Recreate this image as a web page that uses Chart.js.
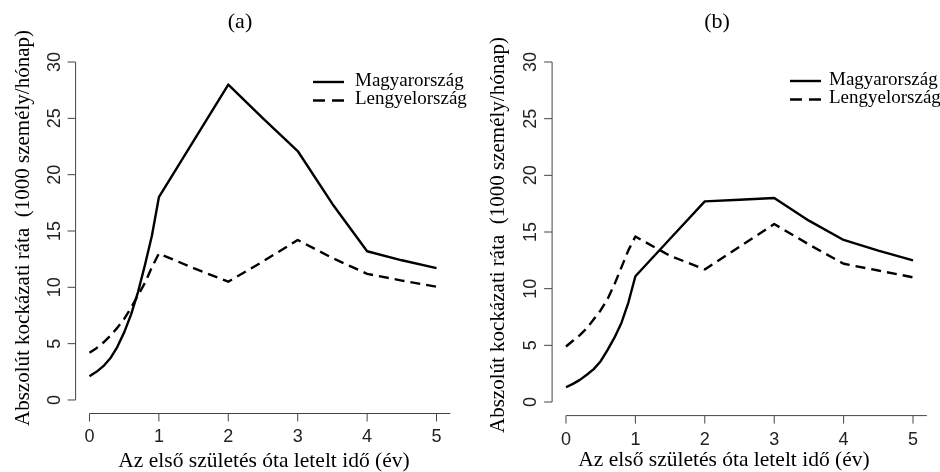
<!DOCTYPE html>
<html>
<head>
<meta charset="utf-8">
<script src="https://cdn.jsdelivr.net/npm/chart.js@4/dist/chart.umd.min.js"></script>
<style>
  body { margin: 0; background: #fff; }
  .panel { position: absolute; top: 0; width: 470px; height: 472px; }
</style>
</head>
<body>
<div class="panel" style="left:0"><canvas id="chartA" width="470" height="472"></canvas></div>
<div class="panel" style="left:470px"><canvas id="chartB" width="470" height="472"></canvas></div>
<script>
// years since first birth
const years = [0, 0.1, 0.2, 0.3, 0.4, 0.5, 0.6, 0.7, 0.8, 0.9, 1, 1.5, 2, 2.5, 3, 3.5, 4, 4.5, 5];

// panel (a)
const huA = [2.1, 2.5, 3.0, 3.7, 4.7, 6.0, 7.6, 9.6, 12.0, 14.6, 18.0, 23.0, 28.0, 25.0, 22.1, 17.4, 13.2, 12.4, 11.7];
const plA = [4.2, 4.6, 5.1, 5.7, 6.4, 7.2, 8.2, 9.3, 10.4, 11.8, 13.0, 11.7, 10.5, 12.3, 14.2, 12.6, 11.2, 10.6, 10.05];

// panel (b)
const huB = [1.3, 1.6, 1.95, 2.4, 2.9, 3.6, 4.6, 5.7, 7.0, 8.8, 11.1, 14.4, 17.7, 17.85, 18.0, 16.0, 14.3, 13.35, 12.5];
const plB = [4.9, 5.4, 5.9, 6.5, 7.3, 8.1, 9.1, 10.4, 11.9, 13.4, 14.6, 12.9, 11.7, 13.7, 15.7, 13.9, 12.2, 11.6, 11.0];

const xTicks = [0, 1, 2, 3, 4, 5];
const yTicks = [0, 5, 10, 15, 20, 25, 30];
const seriesNames = ["Magyarország", "Lengyelország"];
const yTitle = "Abszolút kockázati ráta  (1000 személy/hónap)";
const xTitle = "Az első születés óta letelt idő (év)";

const serif = "'Liberation Serif', 'Times New Roman', serif";
const sans = "'Liberation Sans', Arial, sans-serif";
const axisColor = "#444";

function pts(ys) {
  return years.map((x, i) => ({ x: x, y: ys[i] }));
}

// R-style axes, labels and legend
const rAxes = {
  id: "rAxes",
  afterDraw(chart, args, o) {
    const ctx = chart.ctx;
    const xs = chart.scales.x, ys = chart.scales.y;
    const left = chart.chartArea.left, bottom = chart.chartArea.bottom;
    ctx.save();
    ctx.strokeStyle = axisColor;
    ctx.lineWidth = 1;
    ctx.fillStyle = "#222";

    // y axis
    ctx.beginPath();
    ctx.moveTo(left, ys.getPixelForValue(yTicks[0]));
    ctx.lineTo(left, ys.getPixelForValue(yTicks[yTicks.length - 1]));
    yTicks.forEach(v => {
      const p = ys.getPixelForValue(v);
      ctx.moveTo(left - 8, p);
      ctx.lineTo(left, p);
    });
    ctx.stroke();
    ctx.font = "18px " + sans;
    ctx.textAlign = "center";
    ctx.textBaseline = "middle";
    yTicks.forEach(v => {
      ctx.save();
      ctx.translate(left - 21, ys.getPixelForValue(v));
      ctx.rotate(-Math.PI / 2);
      ctx.fillText(String(v), 0, 0);
      ctx.restore();
    });

    // x axis
    ctx.beginPath();
    ctx.moveTo(xs.getPixelForValue(xTicks[0]), bottom);
    ctx.lineTo(chart.chartArea.right, bottom);
    xTicks.forEach(v => {
      const p = xs.getPixelForValue(v);
      ctx.moveTo(p, bottom);
      ctx.lineTo(p, bottom + 8);
    });
    ctx.stroke();
    xTicks.forEach(v => {
      ctx.fillText(String(v), xs.getPixelForValue(v), bottom + 24);
    });

    // titles
    ctx.fillStyle = "#000";
    ctx.font = "22px " + serif;
    ctx.fillText(o.title, o.titleX, 22);
    ctx.font = "21.5px " + serif;
    ctx.fillText(xTitle, o.xTitleX, o.xTitleY);
    ctx.font = "21px " + serif;
    ctx.save();
    ctx.translate(o.yTitleX, o.yTitleY);
    ctx.rotate(-Math.PI / 2);
    ctx.fillText(yTitle, 0, 0);
    ctx.restore();

    // legend
    ctx.strokeStyle = "#000";
    ctx.lineWidth = 2.4;
    ctx.font = "19px " + serif;
    ctx.textAlign = "left";
    [[], [12, 7]].forEach((dash, i) => {
      const y = o.legY + i * 18.5;
      ctx.setLineDash(dash);
      ctx.beginPath();
      ctx.moveTo(o.legX, y);
      ctx.lineTo(o.legX + 31, y);
      ctx.stroke();
      ctx.fillText(seriesNames[i], o.legX + o.legGap, y - 1);
    });
    ctx.restore();
  }
};

function makePanel(id, hu, pl, pad, opts) {
  return new Chart(document.getElementById(id), {
    type: "line",
    data: {
      datasets: [
        { label: seriesNames[0], data: pts(hu), borderColor: "#000", borderWidth: 2.4,
          pointRadius: 0, tension: 0, borderJoinStyle: "round" },
        { label: seriesNames[1], data: pts(pl), borderColor: "#000", borderWidth: 2.4,
          borderDash: [10, 6], pointRadius: 0, tension: 0, borderJoinStyle: "round" }
      ]
    },
    options: {
      responsive: false,
      animation: false,
      layout: { padding: pad },
      scales: {
        x: { type: "linear", min: -0.2, max: 5.2, display: false },
        y: { min: -1.2, max: 31.2, display: false }
      },
      plugins: {
        legend: { display: false },
        tooltip: { enabled: false },
        rAxes: opts
      }
    },
    plugins: [rAxes]
  });
}

makePanel("chartA", huA, plA,
  { left: 75.6, right: 19.6, top: 48.5, bottom: 58.5 },
  { title: "(a)", titleX: 240, xTitleX: 264, xTitleY: 461, yTitleX: 23, yTitleY: 228,
    legX: 313, legY: 82, legGap: 42 });

makePanel("chartB", huB, plB,
  { left: 82.1, right: 13.1, top: 48.4, bottom: 56.4 },
  { title: "(b)", titleX: 247, xTitleX: 254, xTitleY: 460, yTitleX: 28, yTitleY: 235,
    legX: 320, legY: 81, legGap: 39 });
</script>
</body>
</html>
